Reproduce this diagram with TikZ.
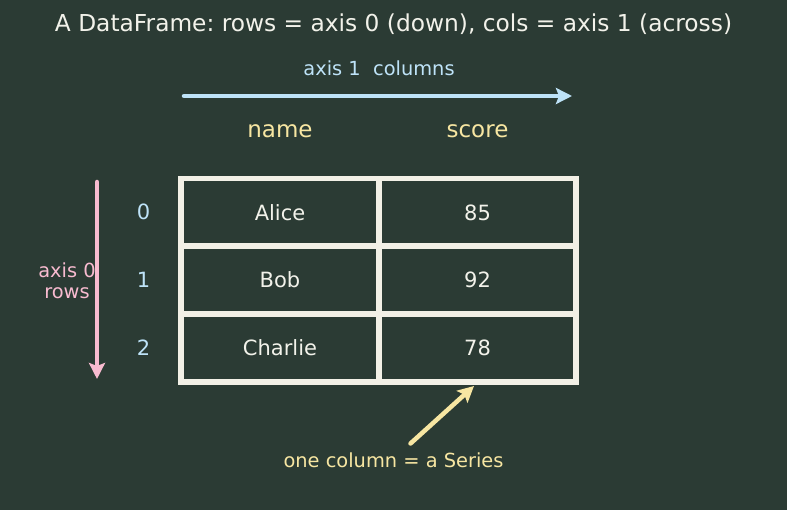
\documentclass[tikz,border=0pt]{standalone}
\usepackage{fontspec}
\setmainfont{DejaVu Sans}
\frenchspacing
\usetikzlibrary{arrows.meta}
\definecolor{bg}{HTML}{2B3B34}
\definecolor{titlec}{HTML}{F2F2EA}
\definecolor{bluec}{HTML}{BEE3F8}
\definecolor{yellowc}{HTML}{F7E6A2}
\definecolor{pinkc}{HTML}{F8BBD0}
\definecolor{gridc}{HTML}{F2F0E6}
\tikzset{
  cell/.style={draw=gridc, line width=5.5pt, minimum width=198pt, minimum height=68pt, inner sep=0pt, text=titlec, font=\fontsize{21}{24}\selectfont},
  hdr/.style={text=yellowc, font=\fontsize{23}{27}\selectfont},
  idx/.style={text=bluec, font=\fontsize{21}{24}\selectfont},
  lbl/.style={font=\fontsize{19.4}{22}\selectfont, inner sep=0pt},
  arr/.style={line width=4.5pt, -{Stealth[length=16pt,width=16pt,inset=3pt]}, line cap=round}
}
\begin{document}
\begin{tikzpicture}[x=1pt,y=-1pt]
\fill[bg] (0,0) rectangle (787,510);
\useasboundingbox (0,0) rectangle (787,510);

\node[text=titlec, font=\fontsize{23.3}{27}\selectfont] (title) at (393.5,24) {A DataFrame: rows = axis 0 (down), cols = axis 1 (across)};

\node[lbl, text=bluec] (ax1) at (379,68) {axis 1\ \ columns};
\coordinate (a1s) at (184,96);
\coordinate (a1e) at (572,96);
\draw[arr, bluec] (a1s) -- (a1e);

\node[hdr] (hname) at (280,131) {name};
\node[hdr] (hscore) at (477.5,131) {score};

\node[cell] (c00) at (280,212.5) {Alice};
\node[cell, minimum width=197pt] (c01) at (477.5,212.5) {85};
\node[cell] (c10) at (280,280) {Bob};
\node[cell, minimum width=197pt] (c11) at (477.5,280) {92};
\node[cell] (c20) at (280,348) {Charlie};
\node[cell, minimum width=197pt] (c21) at (477.5,348) {78};

\node[idx] (i0) at (143.5,212) {0};
\node[idx] (i1) at (143.5,280) {1};
\node[idx] (i2) at (143.5,348) {2};

\coordinate (a0s) at (97,182);
\coordinate (a0e) at (97,379);
\draw[arr, pinkc] (a0s) -- (a0e);
\node[lbl, text=pinkc, align=center] (ax0) at (67,281) {axis 0\\[-1pt]rows};

\node[lbl, text=yellowc] (ser) at (393.5,460) {one column = a Series};
\coordinate (st) at (410.5,443.5);
\coordinate (sh) at (474,386);
\draw[arr, yellowc] (st) -- (sh);
\end{tikzpicture}
\end{document}
